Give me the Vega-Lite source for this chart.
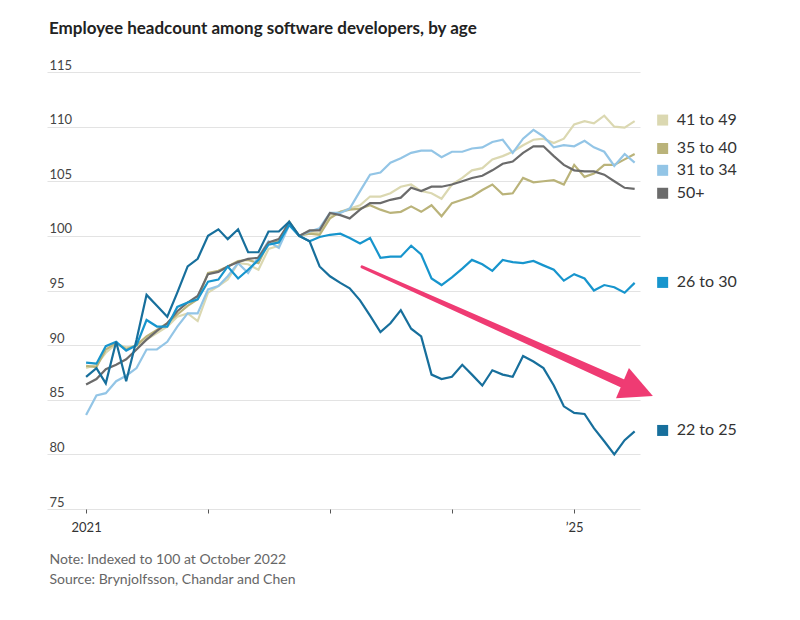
{
  "$schema": "https://vega.github.io/schema/vega-lite/v6.json",
  "width": 593,
  "height": 437,
  "autosize": {"type": "none"},
  "padding": {"left": 47, "top": 72, "right": 160, "bottom": 111},
  "background": "white",
  "config": {
    "font": "Lato",
    "view": {"stroke": null}
  },
  "title": {
    "text": "Employee headcount among software developers, by age",
    "anchor": "start",
    "frame": "group",
    "baseline": "alphabetic",
    "offset": 8,
    "dx": 2,
    "fontSize": 17,
    "fontWeight": "bold",
    "color": "#222222"
  },
  "datasets": {
    "headcount": [
      {"month": "2021-01-01", "22 to 25": 87.1, "26 to 30": 88.4, "31 to 34": 83.6, "50+": 86.4, "35 to 40": 88.1, "41 to 49": 87.9},
      {"month": "2021-02-01", "22 to 25": 87.9, "26 to 30": 88.3, "31 to 34": 85.4, "50+": 86.9, "35 to 40": 88.0, "41 to 49": 88.2},
      {"month": "2021-03-01", "22 to 25": 86.5, "26 to 30": 89.9, "31 to 34": 85.6, "50+": 87.8, "35 to 40": 89.6, "41 to 49": 89.3},
      {"month": "2021-04-01", "22 to 25": 90.3, "26 to 30": 90.3, "31 to 34": 86.7, "50+": 88.2, "35 to 40": 90.2, "41 to 49": 90.1},
      {"month": "2021-05-01", "22 to 25": 86.7, "26 to 30": 89.5, "31 to 34": 87.2, "50+": 88.7, "35 to 40": 89.6, "41 to 49": 89.8},
      {"month": "2021-06-01", "22 to 25": 90.5, "26 to 30": 90.0, "31 to 34": 87.9, "50+": 89.6, "35 to 40": 90.0, "41 to 49": 89.9},
      {"month": "2021-07-01", "22 to 25": 94.6, "26 to 30": 92.3, "31 to 34": 89.6, "50+": 90.5, "35 to 40": 90.8, "41 to 49": 90.5},
      {"month": "2021-08-01", "22 to 25": 93.6, "26 to 30": 91.7, "31 to 34": 89.6, "50+": 91.3, "35 to 40": 91.4, "41 to 49": 91.1},
      {"month": "2021-09-01", "22 to 25": 92.6, "26 to 30": 91.7, "31 to 34": 90.3, "50+": 92.0, "35 to 40": 92.0, "41 to 49": 91.7},
      {"month": "2021-10-01", "22 to 25": 94.8, "26 to 30": 93.5, "31 to 34": 91.7, "50+": 93.1, "35 to 40": 92.8, "41 to 49": 92.6},
      {"month": "2021-11-01", "22 to 25": 97.2, "26 to 30": 93.9, "31 to 34": 92.9, "50+": 93.9, "35 to 40": 93.6, "41 to 49": 92.9},
      {"month": "2021-12-01", "22 to 25": 97.9, "26 to 30": 94.2, "31 to 34": 92.9, "50+": 94.5, "35 to 40": 94.2, "41 to 49": 92.2},
      {"month": "2022-01-01", "22 to 25": 100.0, "26 to 30": 95.8, "31 to 34": 95.1, "50+": 96.5, "35 to 40": 96.6, "41 to 49": 94.8},
      {"month": "2022-02-01", "22 to 25": 100.6, "26 to 30": 96.0, "31 to 34": 95.4, "50+": 96.7, "35 to 40": 96.8, "41 to 49": 95.4},
      {"month": "2022-03-01", "22 to 25": 99.7, "26 to 30": 97.2, "31 to 34": 96.3, "50+": 97.2, "35 to 40": 97.2, "41 to 49": 96.0},
      {"month": "2022-04-01", "22 to 25": 100.6, "26 to 30": 96.1, "31 to 34": 97.5, "50+": 97.6, "35 to 40": 97.7, "41 to 49": 97.5},
      {"month": "2022-05-01", "22 to 25": 98.5, "26 to 30": 96.9, "31 to 34": 96.6, "50+": 97.9, "35 to 40": 97.8, "41 to 49": 97.4},
      {"month": "2022-06-01", "22 to 25": 98.5, "26 to 30": 97.8, "31 to 34": 98.1, "50+": 98.0, "35 to 40": 97.5, "41 to 49": 96.9},
      {"month": "2022-07-01", "22 to 25": 100.4, "26 to 30": 99.2, "31 to 34": 99.5, "50+": 99.4, "35 to 40": 99.4, "41 to 49": 98.8},
      {"month": "2022-08-01", "22 to 25": 100.4, "26 to 30": 99.4, "31 to 34": 98.9, "50+": 99.7, "35 to 40": 99.5, "41 to 49": 99.1},
      {"month": "2022-09-01", "22 to 25": 101.3, "26 to 30": 101.0, "31 to 34": 101.0, "50+": 101.2, "35 to 40": 101.3, "41 to 49": 101.2},
      {"month": "2022-10-01", "22 to 25": 100.0, "26 to 30": 100.0, "31 to 34": 100.0, "50+": 100.0, "35 to 40": 100.0, "41 to 49": 100.0},
      {"month": "2022-11-01", "22 to 25": 99.5, "26 to 30": 99.5, "31 to 34": 100.4, "50+": 100.5, "35 to 40": 100.2, "41 to 49": 100.4},
      {"month": "2022-12-01", "22 to 25": 97.2, "26 to 30": 99.9, "31 to 34": 100.7, "50+": 100.5, "35 to 40": 100.1, "41 to 49": 100.2},
      {"month": "2023-01-01", "22 to 25": 96.3, "26 to 30": 100.1, "31 to 34": 102.1, "50+": 102.1, "35 to 40": 101.6, "41 to 49": 101.9},
      {"month": "2023-02-01", "22 to 25": 95.7, "26 to 30": 100.2, "31 to 34": 102.1, "50+": 101.9, "35 to 40": 102.2, "41 to 49": 102.2},
      {"month": "2023-03-01", "22 to 25": 95.2, "26 to 30": 99.8, "31 to 34": 102.5, "50+": 101.6, "35 to 40": 102.4, "41 to 49": 102.5},
      {"month": "2023-04-01", "22 to 25": 94.1, "26 to 30": 99.3, "31 to 34": 104.1, "50+": 102.4, "35 to 40": 102.5, "41 to 49": 102.8},
      {"month": "2023-05-01", "22 to 25": 92.7, "26 to 30": 99.8, "31 to 34": 105.6, "50+": 103.0, "35 to 40": 102.8, "41 to 49": 103.6},
      {"month": "2023-06-01", "22 to 25": 91.2, "26 to 30": 98.0, "31 to 34": 105.8, "50+": 103.0, "35 to 40": 102.4, "41 to 49": 103.6},
      {"month": "2023-07-01", "22 to 25": 92.0, "26 to 30": 98.1, "31 to 34": 106.7, "50+": 103.3, "35 to 40": 102.1, "41 to 49": 103.9},
      {"month": "2023-08-01", "22 to 25": 93.2, "26 to 30": 98.1, "31 to 34": 107.1, "50+": 103.5, "35 to 40": 102.2, "41 to 49": 104.5},
      {"month": "2023-09-01", "22 to 25": 91.5, "26 to 30": 99.1, "31 to 34": 107.6, "50+": 104.4, "35 to 40": 102.7, "41 to 49": 104.7},
      {"month": "2023-10-01", "22 to 25": 90.8, "26 to 30": 98.3, "31 to 34": 107.8, "50+": 104.1, "35 to 40": 102.2, "41 to 49": 104.1},
      {"month": "2023-11-01", "22 to 25": 87.3, "26 to 30": 96.1, "31 to 34": 107.8, "50+": 104.5, "35 to 40": 102.8, "41 to 49": 103.9},
      {"month": "2023-12-01", "22 to 25": 86.9, "26 to 30": 95.5, "31 to 34": 107.2, "50+": 104.5, "35 to 40": 101.8, "41 to 49": 103.4},
      {"month": "2024-01-01", "22 to 25": 87.1, "26 to 30": 96.2, "31 to 34": 107.7, "50+": 104.7, "35 to 40": 103.0, "41 to 49": 104.7},
      {"month": "2024-02-01", "22 to 25": 88.2, "26 to 30": 97.0, "31 to 34": 107.7, "50+": 105.0, "35 to 40": 103.3, "41 to 49": 105.3},
      {"month": "2024-03-01", "22 to 25": 87.3, "26 to 30": 97.8, "31 to 34": 108.0, "50+": 105.3, "35 to 40": 103.6, "41 to 49": 106.0},
      {"month": "2024-04-01", "22 to 25": 86.3, "26 to 30": 97.4, "31 to 34": 108.1, "50+": 105.5, "35 to 40": 104.2, "41 to 49": 106.2},
      {"month": "2024-05-01", "22 to 25": 87.7, "26 to 30": 96.8, "31 to 34": 108.6, "50+": 106.0, "35 to 40": 104.7, "41 to 49": 107.0},
      {"month": "2024-06-01", "22 to 25": 87.3, "26 to 30": 97.8, "31 to 34": 108.8, "50+": 106.6, "35 to 40": 103.8, "41 to 49": 107.3},
      {"month": "2024-07-01", "22 to 25": 87.1, "26 to 30": 97.6, "31 to 34": 107.6, "50+": 106.8, "35 to 40": 103.9, "41 to 49": 107.7},
      {"month": "2024-08-01", "22 to 25": 89.0, "26 to 30": 97.5, "31 to 34": 108.9, "50+": 107.6, "35 to 40": 105.3, "41 to 49": 108.3},
      {"month": "2024-09-01", "22 to 25": 88.5, "26 to 30": 97.7, "31 to 34": 109.7, "50+": 108.2, "35 to 40": 104.9, "41 to 49": 108.8},
      {"month": "2024-10-01", "22 to 25": 87.9, "26 to 30": 97.3, "31 to 34": 109.1, "50+": 108.2, "35 to 40": 105.0, "41 to 49": 108.9},
      {"month": "2024-11-01", "22 to 25": 86.3, "26 to 30": 96.9, "31 to 34": 108.1, "50+": 107.3, "35 to 40": 105.1, "41 to 49": 108.5},
      {"month": "2024-12-01", "22 to 25": 84.4, "26 to 30": 95.9, "31 to 34": 108.3, "50+": 106.5, "35 to 40": 104.7, "41 to 49": 108.9},
      {"month": "2025-01-01", "22 to 25": 83.8, "26 to 30": 96.5, "31 to 34": 108.2, "50+": 106.0, "35 to 40": 106.5, "41 to 49": 110.2},
      {"month": "2025-02-01", "22 to 25": 83.7, "26 to 30": 96.1, "31 to 34": 108.7, "50+": 105.9, "35 to 40": 105.4, "41 to 49": 110.5},
      {"month": "2025-03-01", "22 to 25": 82.4, "26 to 30": 95.0, "31 to 34": 108.1, "50+": 105.9, "35 to 40": 105.7, "41 to 49": 110.3},
      {"month": "2025-04-01", "22 to 25": 81.2, "26 to 30": 95.5, "31 to 34": 107.7, "50+": 105.6, "35 to 40": 106.5, "41 to 49": 111.0},
      {"month": "2025-05-01", "22 to 25": 80.0, "26 to 30": 95.3, "31 to 34": 106.4, "50+": 105.0, "35 to 40": 106.5, "41 to 49": 110.0},
      {"month": "2025-06-01", "22 to 25": 81.3, "26 to 30": 94.8, "31 to 34": 107.5, "50+": 104.4, "35 to 40": 107.0, "41 to 49": 109.9},
      {"month": "2025-07-01", "22 to 25": 82.1, "26 to 30": 95.7, "31 to 34": 106.7, "50+": 104.3, "35 to 40": 107.5, "41 to 49": 110.5}
    ],
    "labels": [
      {"month": "2025-07-01", "group": "41 to 49", "value": 110.6},
      {"month": "2025-07-01", "group": "35 to 40", "value": 108.0},
      {"month": "2025-07-01", "group": "31 to 34", "value": 106.0},
      {"month": "2025-07-01", "group": "50+", "value": 103.9},
      {"month": "2025-07-01", "group": "26 to 30", "value": 95.74},
      {"month": "2025-07-01", "group": "22 to 25", "value": 82.19}
    ],
    "arrow": [
      {"month": "2023-04-07", "value": 97.17, "end": "start"},
      {"month": "2025-06-17", "value": 86.19, "end": "end"}
    ],
    "arrowhead": [
      {"month": "2025-07-10", "value": 85.93}
    ]
  },
  "encoding": {
    "x": {
      "field": "month",
      "type": "temporal",
      "scale": {
        "domain": [
          {"year": 2020, "month": 9, "date": 6, "utc": true},
          {"year": 2025, "month": 7, "date": 17, "utc": true}
        ],
        "nice": false
      },
      "axis": {
        "values": [
          {"year": 2021, "month": 1, "date": 1, "utc": true},
          {"year": 2022, "month": 1, "date": 1, "utc": true},
          {"year": 2023, "month": 1, "date": 1, "utc": true},
          {"year": 2024, "month": 1, "date": 1, "utc": true},
          {"year": 2025, "month": 1, "date": 1, "utc": true}
        ],
        "labelExpr": "utcyear(datum.value) == 2021 ? '2021' : (utcyear(datum.value) == 2025 ? '’25' : '')",
        "labelOverlap": false,
        "labelFlush": false,
        "grid": false,
        "domain": false,
        "tickSize": 4,
        "tickColor": "#555555",
        "labelPadding": 8,
        "labelFontSize": 13,
        "labelColor": "#333333",
        "title": ["Note: Indexed to 100 at October 2022", "Source: Brynjolfsson, Chandar and Chen"],
        "titleAnchor": "start",
        "titleAlign": "left",
        "titleBaseline": "alphabetic",
        "titleX": 2,
        "titleY": 54,
        "titleLineHeight": 20.7,
        "titleFontSize": 14,
        "titleFontWeight": "normal",
        "titleColor": "#666666"
      }
    },
    "y": {
      "field": "value",
      "type": "quantitative",
      "scale": {"domain": [75, 115], "nice": false, "zero": false},
      "axis": {
        "values": [75, 80, 85, 90, 95, 100, 105, 110, 115],
        "title": null,
        "domain": false,
        "ticks": false,
        "tickSize": 0,
        "labelAlign": "left",
        "labelPadding": -2,
        "labelBaseline": "alphabetic",
        "labelOffset": -3,
        "labelFontSize": 13,
        "labelColor": "#444444",
        "gridColor": "#e3e3e3"
      }
    }
  },
  "layer": [
    {
      "data": {"name": "headcount"},
      "transform": [
        {"fold": ["41 to 49", "35 to 40", "31 to 34", "50+", "26 to 30", "22 to 25"], "as": ["group", "value"]}
      ],
      "mark": {"type": "line", "strokeWidth": 2.2},
      "encoding": {
        "color": {
          "field": "group",
          "type": "nominal",
          "scale": {
            "domain": ["41 to 49", "35 to 40", "31 to 34", "50+", "26 to 30", "22 to 25"],
            "range": ["#dbd8b1", "#bab37a", "#93c5e6", "#6b6b6b", "#1795cd", "#176f9c"]
          },
          "legend": null
        }
      }
    },
    {
      "data": {"name": "arrow"},
      "mark": {"type": "trail", "color": "#ef3b73"},
      "encoding": {
        "size": {
          "field": "end",
          "type": "ordinal",
          "scale": {"domain": ["start", "end"], "range": [3, 9]},
          "legend": null
        }
      }
    },
    {
      "data": {"name": "arrowhead"},
      "mark": {
        "type": "point",
        "shape": "M -1 -1 L 1 0 L -1 1 Z",
        "size": 1090,
        "angle": 23,
        "filled": true,
        "opacity": 1,
        "color": "#ef3b73"
      }
    },
    {
      "data": {"name": "labels"},
      "mark": {"type": "point", "shape": "square", "size": 121, "filled": true, "opacity": 1, "xOffset": 28},
      "encoding": {
        "color": {"field": "group", "type": "nominal", "legend": null}
      }
    },
    {
      "data": {"name": "labels"},
      "mark": {"type": "text", "align": "left", "baseline": "middle", "dx": 42, "fontSize": 16, "color": "#333333"},
      "encoding": {
        "text": {"field": "group"}
      }
    }
  ]
}
